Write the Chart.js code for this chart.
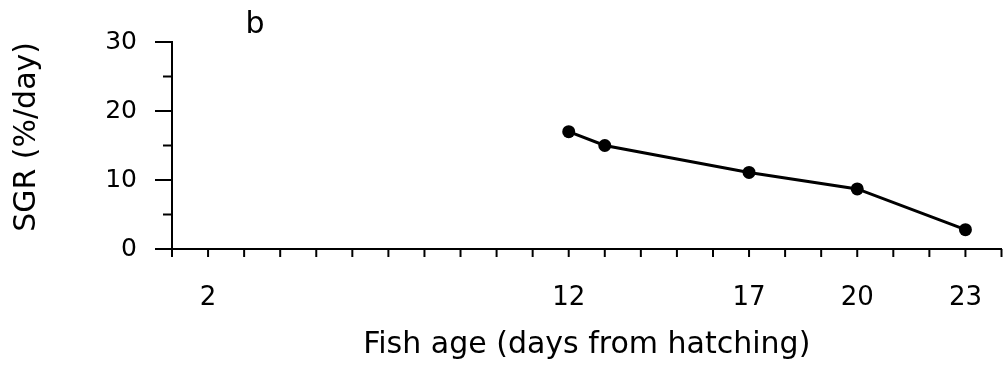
<!DOCTYPE html>
<html lang="en">

<head>
    <meta charset="UTF-8">
    <title>SGR by fish age</title>
    <script src="https://cdn.jsdelivr.net/npm/chart.js"></script>
    <style>
        body { margin: 0; background: #fff; }
        #wrap { width: 1008px; height: 369px; position: relative; }
    </style>
</head>

<body>
    <div id="wrap"><canvas id="sgrChart"></canvas></div>
    <script>
        // values
        const ageDays = [12, 13, 17, 20, 23];
        const sgrValues = [17, 15, 11.1, 8.7, 2.8];
        const xTickLabels = [2, 12, 17, 20, 23];
        const yTickLabels = [0, 10, 20, 30];

        const fontFamily = "'DejaVu Sans', Arial, sans-serif";

        // short tick marks on the outside of both axes, plus the panel letter
        const axisMarks = {
            id: "axisMarks",
            afterDraw(chart) {
                const { ctx, scales: { x, y } } = chart;
                ctx.save();
                ctx.strokeStyle = "#000";
                ctx.lineWidth = 2;
                x.ticks.forEach(t => {
                    const px = x.getPixelForValue(t.value);
                    ctx.beginPath();
                    ctx.moveTo(px, y.bottom);
                    ctx.lineTo(px, y.bottom + 8);
                    ctx.stroke();
                });
                y.ticks.forEach(t => {
                    const py = y.getPixelForValue(t.value);
                    const len = yTickLabels.includes(t.value) ? 17 : 9;
                    ctx.beginPath();
                    ctx.moveTo(x.left, py);
                    ctx.lineTo(x.left - len, py);
                    ctx.stroke();
                });
                ctx.fillStyle = "#000";
                ctx.font = "30px " + fontFamily;
                ctx.textAlign = "center";
                ctx.textBaseline = "alphabetic";
                ctx.fillText("b", x.getPixelForValue(3.3), 33);
                ctx.restore();
            }
        };

        new Chart(document.getElementById("sgrChart"), {
            type: "line",
            data: {
                datasets: [{
                    data: ageDays.map((d, i) => ({ x: d, y: sgrValues[i] })),
                    borderColor: "#000",
                    backgroundColor: "#000",
                    borderWidth: 3,
                    pointRadius: 6.5,
                    pointBackgroundColor: "#000",
                    pointBorderWidth: 0,
                    tension: 0
                }]
            },
            options: {
                responsive: true,
                maintainAspectRatio: false,
                animation: false,
                layout: { padding: { top: 42, right: 4, left: 0, bottom: 0 } },
                plugins: { legend: { display: false }, tooltip: { enabled: false } },
                scales: {
                    x: {
                        type: "linear",
                        min: 1,
                        max: 24,
                        afterFit: s => { s.height = 120; s.paddingLeft = 0; s.paddingRight = 0; },
                        border: { display: true, color: "#000", width: 2 },
                        grid: { drawOnChartArea: false, drawTicks: false },
                        ticks: {
                            stepSize: 1,
                            autoSkip: false,
                            maxRotation: 0,
                            padding: 34,
                            color: "#000",
                            font: { family: fontFamily, size: 26 },
                            callback: v => xTickLabels.includes(v) ? String(v) : ""
                        },
                        title: {
                            display: true,
                            text: "Fish age (days from hatching)",
                            color: "#000",
                            font: { family: fontFamily, size: 30 },
                            padding: { top: 0, bottom: 6 }
                        }
                    },
                    y: {
                        min: 0,
                        max: 30,
                        afterFit: s => { s.width = 172; s.paddingTop = 0; s.paddingBottom = 0; },
                        border: { display: true, color: "#000", width: 2 },
                        grid: { drawOnChartArea: false, drawTicks: false },
                        ticks: {
                            stepSize: 5,
                            padding: 35,
                            color: "#000",
                            font: { family: fontFamily, size: 25 },
                            callback: v => yTickLabels.includes(v) ? String(v) : ""
                        },
                        title: {
                            display: true,
                            text: "SGR (%/day)",
                            align: "end",
                            color: "#000",
                            font: { family: fontFamily, size: 30 },
                            padding: { top: 9, bottom: 0 }
                        }
                    }
                }
            },
            plugins: [axisMarks]
        });
    </script>
</body>

</html>
